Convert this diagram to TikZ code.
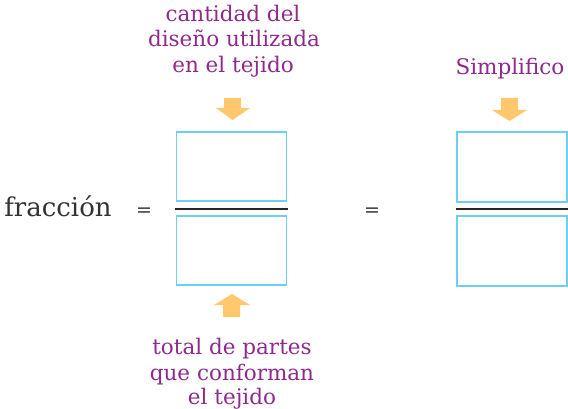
\documentclass[tikz,border=0pt]{standalone}
\usepackage{fontspec}
\setmainfont{DejaVu Serif}
\usetikzlibrary{positioning}
\definecolor{txtpurple}{HTML}{8E2A8C}
\definecolor{boxblue}{HTML}{6CCFF6}
\definecolor{arroworange}{HTML}{FFC86E}
\definecolor{darktxt}{HTML}{333333}
\begin{document}
\begin{tikzpicture}[x=1pt,y=-1pt,
  lbl/.style={text=txtpurple,font=\fontsize{21.5}{25}\selectfont,anchor=base,inner sep=0pt},
  blk/.style={text=darktxt,font=\fontsize{26}{28}\selectfont,anchor=base,inner sep=0pt},
  eqs/.style={text=darktxt,font=\fontsize{19}{20}\selectfont,anchor=base,inner sep=0pt},
  answerbox/.style={draw=boxblue,line width=1.6pt,fill=white},
  barline/.style={draw=black!85,line width=1.8pt},
  arrowfill/.style={fill=arroworange}]
\useasboundingbox (0,0) rectangle (568,409);
% texts
\node[lbl] (a1) at (233,22) {cantidad del};
\node[lbl] (a2) at (234,47) {diseño utilizada};
\node[lbl] (a3) at (233,73) {en el tejido};
\node[lbl] (s1) at (510,75) {Simplifico};
\node[lbl] (b1) at (232,354) {total de partes};
\node[lbl] (b2) at (232,380) {que conforman};
\node[lbl] (b3) at (232,404) {el tejido};
\node[blk] (frac) at (58,216) {fracción};
\node[eqs] (eq1) at (144,217) {=};
\node[eqs] (eq2) at (372,217) {=};
% boxes
\draw[answerbox] (176.5,132) rectangle (286.5,201);
\draw[answerbox] (176.5,216) rectangle (286.5,285);
\draw[barline] (175,209) -- (288,209);
\draw[answerbox] (457,132) rectangle (567,202);
\draw[answerbox] (457,216) rectangle (567,286);
\draw[barline] (456,209) -- (568,209);
% arrows
\fill[arrowfill] (224,98) -- (241,98) -- (241,108) -- (250,108) -- (232.5,120) -- (216,108) -- (224,108) -- cycle;
\fill[arrowfill] (501,98) -- (518,98) -- (518,110) -- (527,110) -- (509.5,121) -- (492,110) -- (501,110) -- cycle;
\fill[arrowfill] (223,317) -- (240,317) -- (240,305) -- (250,305) -- (232,294) -- (214,305) -- (223,305) -- cycle;
\end{tikzpicture}
\end{document}
